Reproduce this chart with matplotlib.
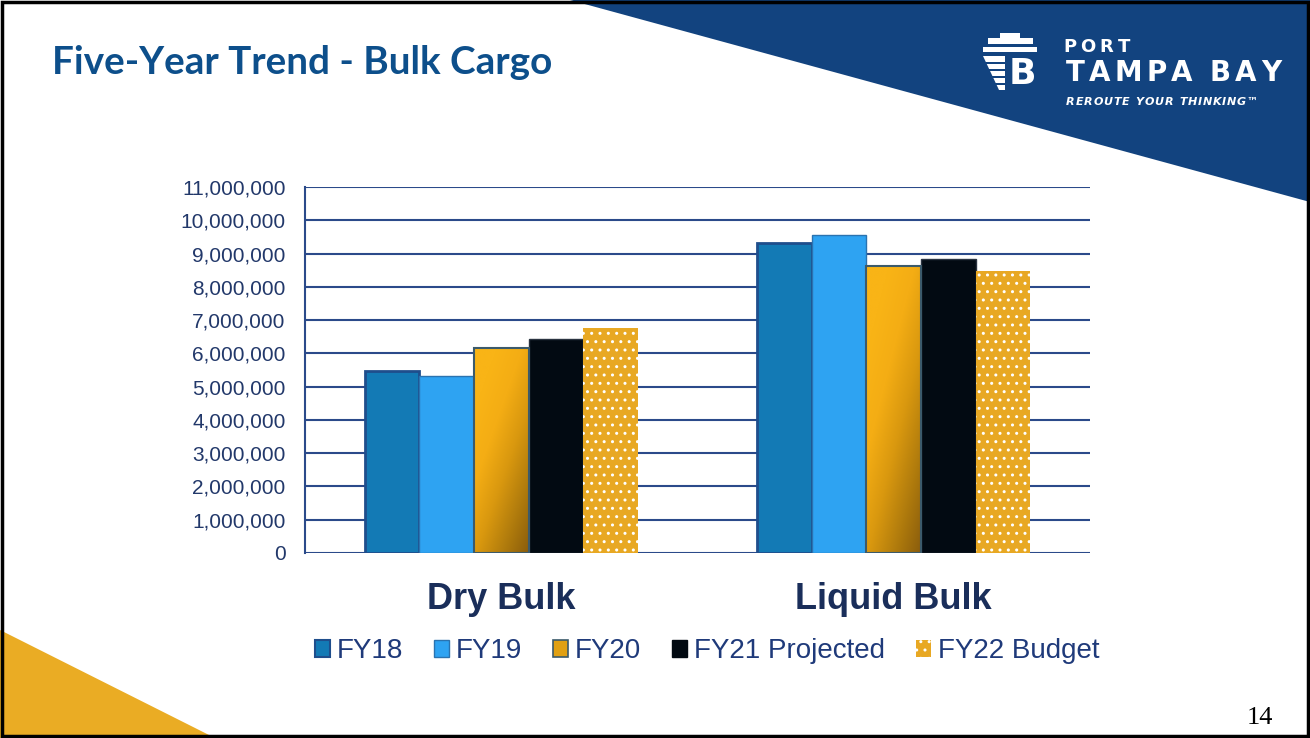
import numpy as np
import matplotlib
matplotlib.use("Agg")
import matplotlib.pyplot as plt
from matplotlib.patches import Polygon, Rectangle, Patch
from matplotlib.colors import LinearSegmentedColormap
from matplotlib.ticker import FuncFormatter

# ---------------- data ----------------
categories = ["Dry Bulk", "Liquid Bulk"]
series_names = ["FY18", "FY19", "FY20", "FY21 Projected", "FY22 Budget"]
fy18 = [5470000, 9310000]
fy19 = [5320000, 9560000]
fy20 = [6170000, 8640000]
fy21 = [6440000, 8830000]
fy22 = [6750000, 8480000]
series_values = [fy18, fy19, fy20, fy21, fy22]
y_ticks = list(range(0, 11000001, 1000000))

# ---------------- figure ----------------
W, H = 1310, 738
fig = plt.figure(figsize=(W / 100, H / 100), dpi=100)
fig.patch.set_facecolor("white")
renderer = fig.canvas.get_renderer()


def px(x, y):
    return (x / W, 1 - y / H)


def rect_px(x0, y0, x1, y1, color="white", z=2):
    fig.patches.append(Rectangle(px(x0, y1), (x1 - x0) / W, (y1 - y0) / H,
                                 transform=fig.transFigure, facecolor=color,
                                 edgecolor="none", zorder=z))


def tracked_text(s, x_start, x_end, y, space_px, **kw):
    """Place characters individually, spreading them to span x_start..x_end."""
    widths = []
    for ch in s:
        if ch == " ":
            widths.append(space_px)
            continue
        t = fig.text(0, 0, ch, **kw)
        widths.append(t.get_window_extent(renderer).width)
        t.remove()
    n_gaps = sum(1 for a, b in zip(s[:-1], s[1:]) if a != " " and b != " ")
    total = sum(widths)
    gap = (x_end - x_start - total) / max(n_gaps, 1)
    x = x_start
    for i, (ch, w) in enumerate(zip(s, widths)):
        if ch != " ":
            fig.text(*px(x, y), ch, ha="left", va="center", **kw)
        x += w
        if i + 1 < len(s) and ch != " " and s[i + 1] != " ":
            x += gap


# blue banner top right
fig.patches.append(Polygon([px(570, 0), px(1310, 0), px(1310, 202)], closed=True,
                           transform=fig.transFigure, facecolor="#12437f",
                           edgecolor="none", zorder=0))
# gold triangle bottom left
fig.patches.append(Polygon([px(0, 630), px(215, 738), px(0, 738)], closed=True,
                           transform=fig.transFigure, facecolor="#eaac24",
                           edgecolor="none", zorder=0))
# slide border
fig.patches.append(Rectangle((0.0015, 0.003), 0.997, 0.994, transform=fig.transFigure,
                             facecolor="none", edgecolor="black", lw=2.5, zorder=10))

# title
fig.text(*px(52, 63), "Five-Year Trend - Bulk Cargo", fontsize=27.8, fontweight="bold",
         family="Lato", color="#0d4f8b", va="center", ha="left")

# logo text
tracked_text("PORT", 1063, 1130, 47, 0, fontsize=13, fontweight="bold",
             family="DejaVu Sans", color="white")
tracked_text("TAMPA BAY", 1066, 1281, 73, 18, fontsize=20, fontweight="bold",
             family="DejaVu Sans", color="white")
tracked_text("REROUTE YOUR THINKING\u2122", 1066, 1258, 102, 6, fontsize=8,
             fontweight="bold", style="italic", family="DejaVu Sans", color="white")

# logo icon (simplified ship / shield)
rect_px(1000, 33, 1020, 38)
rect_px(988, 38, 1033, 44)
rect_px(983, 47, 1037, 52)
fig.patches.append(Polygon([px(983, 56), px(1005, 56), px(1005, 90), px(999, 90)],
                           closed=True, transform=fig.transFigure, facecolor="white",
                           edgecolor="none", zorder=2))
for yy in (62, 69, 76, 83):
    rect_px(983, yy, 1005, yy + 1.6, color="#12437f", z=3)
fig.text(*px(1022, 74), "B", fontsize=26, fontweight="bold", family="DejaVu Sans",
         color="white", va="center", ha="center")

# page number
fig.text(*px(1260, 718), "14", fontsize=19, family="Liberation Serif", color="black",
         va="center", ha="center")

# ---------------- axes ----------------
ax = fig.add_axes([305 / W, 1 - 553 / H, 785 / W, 366 / H])
ax.set_facecolor("none")

x = np.arange(len(categories))
bw = 0.139
offsets = (np.arange(5) - 2) * bw

face = ["#137ab5", "#2ea3f2", "#f5ad14", "#020a12", "#e8a823"]
edges = ["#1f4e8c", "#2a73b0", "#3b5a6b", "#2a3340", "white"]
lws = [2.0, 1.0, 1.5, 1.0, 0.0]

grad_cmap = LinearSegmentedColormap.from_list(
    "gold", ["#f9b416", "#f4ad14", "#d9980f", "#b17c0d", "#8a5d0c"])

for i, (name, vals) in enumerate(zip(series_names, series_values)):
    if i == 4:
        bars = ax.bar(x + offsets[i], vals, bw, color=face[i], edgecolor="white",
                      linewidth=0, hatch="..", zorder=3)
    else:
        bars = ax.bar(x + offsets[i], vals, bw, color=face[i], edgecolor=edges[i],
                      linewidth=lws[i], zorder=3)
    if i == 2:
        for b in bars:
            x0, y0 = b.get_x(), b.get_y()
            w, h = b.get_width(), b.get_height()
            xx, yy = np.meshgrid(np.linspace(0, 1, 100), np.linspace(0, 1, 200))
            # row 0 is the top of the bar: bright top-left, dark bottom-right
            t = 0.6 * xx + 0.8 * yy - 0.25
            t = np.clip(t / t.max(), 0, 1)
            im = ax.imshow(t, extent=[x0, x0 + w, y0, y0 + h], origin="upper",
                           cmap=grad_cmap, aspect="auto", zorder=3.5,
                           interpolation="bilinear")
            im.set_clip_path(b)
            b.set_zorder(4)
            b.set_facecolor("none")

ax.set_xlim(-0.5, 1.5)
ax.set_ylim(0, 11000000)
ax.set_yticks(y_ticks)
ax.yaxis.set_major_formatter(FuncFormatter(lambda v, p: f"{int(v):,}"))
ax.set_xticks(x)
ax.set_xticklabels(categories, fontsize=26, fontweight="bold", color="#1a2e5a",
                   family="Liberation Sans")
ax.tick_params(axis="x", length=0, pad=21)
ax.tick_params(axis="y", length=0, pad=14, labelsize=15, labelcolor="#22386a")
for lab in ax.get_yticklabels():
    lab.set_family("Liberation Sans")

ax.grid(axis="y", color="#2b4a8a", linewidth=1.5, zorder=0)
ax.set_axisbelow(True)
for s in ["top", "right", "bottom"]:
    ax.spines[s].set_visible(False)
ax.spines["left"].set_color("#2b4a8a")
ax.spines["left"].set_linewidth(1.5)

# legend
handles = [
    Patch(facecolor=face[0], edgecolor=edges[0], linewidth=1.5),
    Patch(facecolor=face[1], edgecolor="#2a73b0", linewidth=1.0),
    Patch(facecolor="#e0a012", edgecolor="#3b5a6b", linewidth=1.2),
    Patch(facecolor=face[3], edgecolor=face[3]),
    Patch(facecolor=face[4], edgecolor="white", hatch="..", linewidth=0),
]
leg = fig.legend(handles, series_names, loc="center", bbox_to_anchor=(707 / W, 1 - 651 / H),
                 ncol=5, frameon=False, handlelength=0.55, handleheight=0.55,
                 handletextpad=0.25, columnspacing=1.1,
                 prop={"family": "Liberation Sans", "size": 20})
for t in leg.get_texts():
    t.set_color("#1f3a7a")

fig.savefig("out.png", dpi=100)
